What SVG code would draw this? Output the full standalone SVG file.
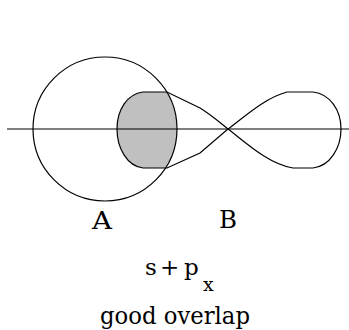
<svg xmlns="http://www.w3.org/2000/svg" width="349" height="330" viewBox="0 0 349 330">
<style>
.ln{fill:none;stroke:#000;stroke-width:1.2}
</style>
<defs>
<clipPath id="cc"><circle cx="105" cy="129" r="72"/></clipPath>
<path id="lobeL" d="M228,129 C218,121 210,114 200,108 L167,92 L143,92 C127,94 117,110 117,129 C117,148 127,166 143,168 L167,168 L200,153 Z"/>
</defs>
<rect width="349" height="330" fill="#fff"/>
<g id="shade">
<use href="#lobeL" fill="#c0c0c0" clip-path="url(#cc)"/>
</g>
<g id="atomA">
<circle class="ln" cx="105" cy="129" r="72"/>
</g>
<g id="orbitalB">
<use href="#lobeL" class="ln"/>
<path class="ln" d="M228,129 C242,119 264,98 287,92 L313,92 C330,94 341,110 341,129 C341,148 330,166 313,168 L293,168 C268,164 244,141 228,129 Z"/>
</g>
<g id="connectors">
<line class="ln" x1="7" y1="129" x2="349" y2="129"/>
</g>
<g id="labels" font-family="'DejaVu Serif', serif" fill="#000">
<text x="92" y="229" font-size="24" textLength="20" lengthAdjust="spacingAndGlyphs">A</text>
<text x="219" y="228" font-size="24" textLength="18" lengthAdjust="spacingAndGlyphs">B</text>
<text x="145" y="275" font-size="23">s<tspan x="160">+</tspan><tspan x="184">p</tspan><tspan x="203" y="291" font-size="19">x</tspan></text>
<text x="100" y="324" font-size="24" textLength="150" lengthAdjust="spacingAndGlyphs">good overlap</text>
</g>
</svg>
